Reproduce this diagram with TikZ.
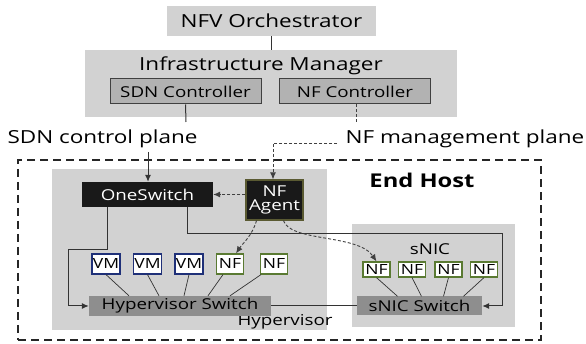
\documentclass[tikz,border=0pt]{standalone}
\usepackage{fontspec}
\setmainfont[FakeStretch=1.25]{Open Sans}
\usepackage{xcolor}
\usetikzlibrary{arrows.meta}

\definecolor{zonegray}{HTML}{D2D2D2}
\definecolor{ctrlgray}{HTML}{B2B2B2}
\definecolor{switchgray}{HTML}{8E8E8E}
\definecolor{agentbrown}{HTML}{5A5A32}
\definecolor{vmblue}{HTML}{1F3078}
\definecolor{nfgreen}{HTML}{5A7A32}

\newcommand{\bigtxt}{\fontsize{18}{18}\selectfont}
\newcommand{\midtxt}{\fontsize{15}{15}\selectfont}
\newcommand{\smalltxt}{\fontsize{14}{14}\selectfont}

\tikzset{
  zone/.style={fill=zonegray, inner sep=0pt},
  ctrlbox/.style={draw=black!75, fill=ctrlgray, line width=1pt, inner sep=0pt,
    minimum width=151pt, minimum height=25pt, font=\midtxt},
  darkbox/.style={fill=black!90, text=white, inner sep=0pt, font=\midtxt},
  vmbox/.style={draw=vmblue, fill=white, line width=1.2pt, inner sep=0pt,
    minimum width=28pt, minimum height=20pt, font=\smalltxt},
  nfbox/.style={draw=nfgreen, fill=white, line width=1.2pt, inner sep=0pt,
    minimum width=27pt, minimum height=20pt, font=\smalltxt},
  switchbox/.style={fill=switchgray, inner sep=0pt, font=\midtxt},
  link/.style={draw=black!80, line width=1pt},
  vlink/.style={draw=black!80, line width=0.7pt},
  mgmt/.style={draw=black!75, line width=0.9pt, dash pattern=on 3pt off 2pt},
}

\begin{document}
\begin{tikzpicture}[x=1pt, y=-1pt, >={Latex[length=7pt,width=6pt]}]
    \useasboundingbox (0,0) rectangle (586,344);
    % management side
    \path (271.5,21) node [zone, minimum width=209pt, minimum height=30pt, font=\bigtxt] (orch) {NFV Orchestrator};
    \path (271,83.5) node [zone, minimum width=372pt, minimum height=67pt] (im) {};
    \path (261,66) node [font=\bigtxt, inner sep=0pt] (imlbl) {Infrastructure Manager};
    \draw [link, line width=1.3pt] (orch.south) -- (orch.south |- im.north);
    \path (185.5,91.5) node [ctrlbox] (sdnc) {SDN Controller};
    \path (355,91.5) node [ctrlbox] (nfc) {NF Controller};
    % planes
    \path (102.5,139) node [font=\bigtxt, inner sep=0pt] (sdnlbl) {SDN control plane};
    \path (465,139) node [font=\bigtxt, inner sep=0pt] (nflbl) {NF management plane};
    \coordinate (sdnend) at (186,122);
    \coordinate (nfend) at (356,122);
    \draw [link] (sdnc.south) -- (sdnend);
    \draw [mgmt] (nfc.south -| nfend) -- (nfend);
    % end host
    \path (279.5,250) node [draw=black!85, line width=1.8pt, dash pattern=on 8pt off 5pt,
      minimum width=523pt, minimum height=180pt] (host) {};
    \path (422,180) node [font=\fontsize{19}{19}\selectfont\bfseries] (hostlbl) {End Host};
    \path (189.5,249.5) node [zone, minimum width=275pt, minimum height=161pt] (hv) {};
    \path (285,322) node [font=\midtxt, inner sep=0pt] (hvlbl) {Hypervisor};
    \path (433.5,275.5) node [zone, minimum width=163pt, minimum height=103pt] (snic) {};
    \path (430,249) node [font=\midtxt, inner sep=0pt] (sniclbl) {sNIC};
    \path (147.5,194.5) node [darkbox, minimum width=131pt, minimum height=25pt] (os) {OneSwitch};
    \path (274.5,200) node [darkbox, draw=agentbrown, line width=1.2pt, minimum width=57pt,
      minimum height=40pt, align=center] (agent) {NF\\[-1pt]Agent};
    % VMs and NFs on the hypervisor
    \path (106,264) node [vmbox] (vm1) {VM};
    \path (147.5,264) node [vmbox] (vm2) {VM};
    \path (189,264) node [vmbox] (vm3) {VM};
    \path (230,264) node [nfbox] (hnf1) {NF};
    \path (274,264) node [nfbox] (hnf2) {NF};
    \path (180,306) node [switchbox, minimum width=182pt, minimum height=20pt] (hs) {Hypervisor Switch};
    \draw [vlink] (vm1.south) -- ([xshift=-51pt]hs.north);
    \draw [vlink] (vm2.south) -- ([xshift=-21pt]hs.north);
    \draw [vlink] (vm3.south) -- ([xshift=4pt]hs.north);
    \draw [vlink] ([xshift=-7pt]hnf1.south) -- ([xshift=28pt]hs.north);
    \draw [vlink] ([xshift=-13pt]hnf2.south) -- ([xshift=50pt]hs.north);
    % NFs on the sNIC
    \path (376.5,269.5) node [nfbox, minimum height=15pt] (snf1) {NF};
    \path (412,269.5) node [nfbox, minimum height=15pt] (snf2) {NF};
    \path (448.5,269.5) node [nfbox, minimum height=15pt] (snf3) {NF};
    \path (484,269.5) node [nfbox, minimum height=15pt] (snf4) {NF};
    \path (419.5,306) node [switchbox, minimum width=125pt, minimum height=19pt] (ss) {sNIC Switch};
    \draw [vlink] (snf1.south) -- ([xshift=-22pt]ss.north);
    \draw [vlink] (snf2.south) -- ([xshift=2pt]ss.north);
    \draw [vlink] (snf3.south) -- ([xshift=24pt]ss.north);
    \draw [vlink] (snf4.south) -- ([xshift=44pt]ss.north);
    \draw [link] (hs.east) -- (ss.west);
    % control and management connectors
    \coordinate (sdnstart) at (148,152);
    \draw [link, ->] (sdnstart) -- (sdnstart |- os.north);
    \coordinate (nfstart) at (337,143);
    \coordinate (nfturn) at (273,143);
    \draw [mgmt, ->] (nfstart) -- (nfturn) -- (nfturn |- agent.north);
    \draw [mgmt, ->] (agent.west |- os.east) -- (os.east);
    \coordinate (hvbend) at (68,250);
    \coordinate (snicbend) at (502,234);
    \draw [link, ->] ([xshift=-40pt]os.south) |- (hvbend) |- (hs.west);
    \draw [link, ->] ([xshift=40pt]os.south) |- (snicbend) |- (ss.east);
    \draw [mgmt, ->] ([xshift=-18pt]agent.south) .. controls (252,236) and (243,243) .. ([xshift=6pt]hnf1.north);
    \draw [mgmt, ->] ([xshift=9pt]agent.south) .. controls (290,242) and (358,234) .. (snf1.north);
\end{tikzpicture}
\end{document}
